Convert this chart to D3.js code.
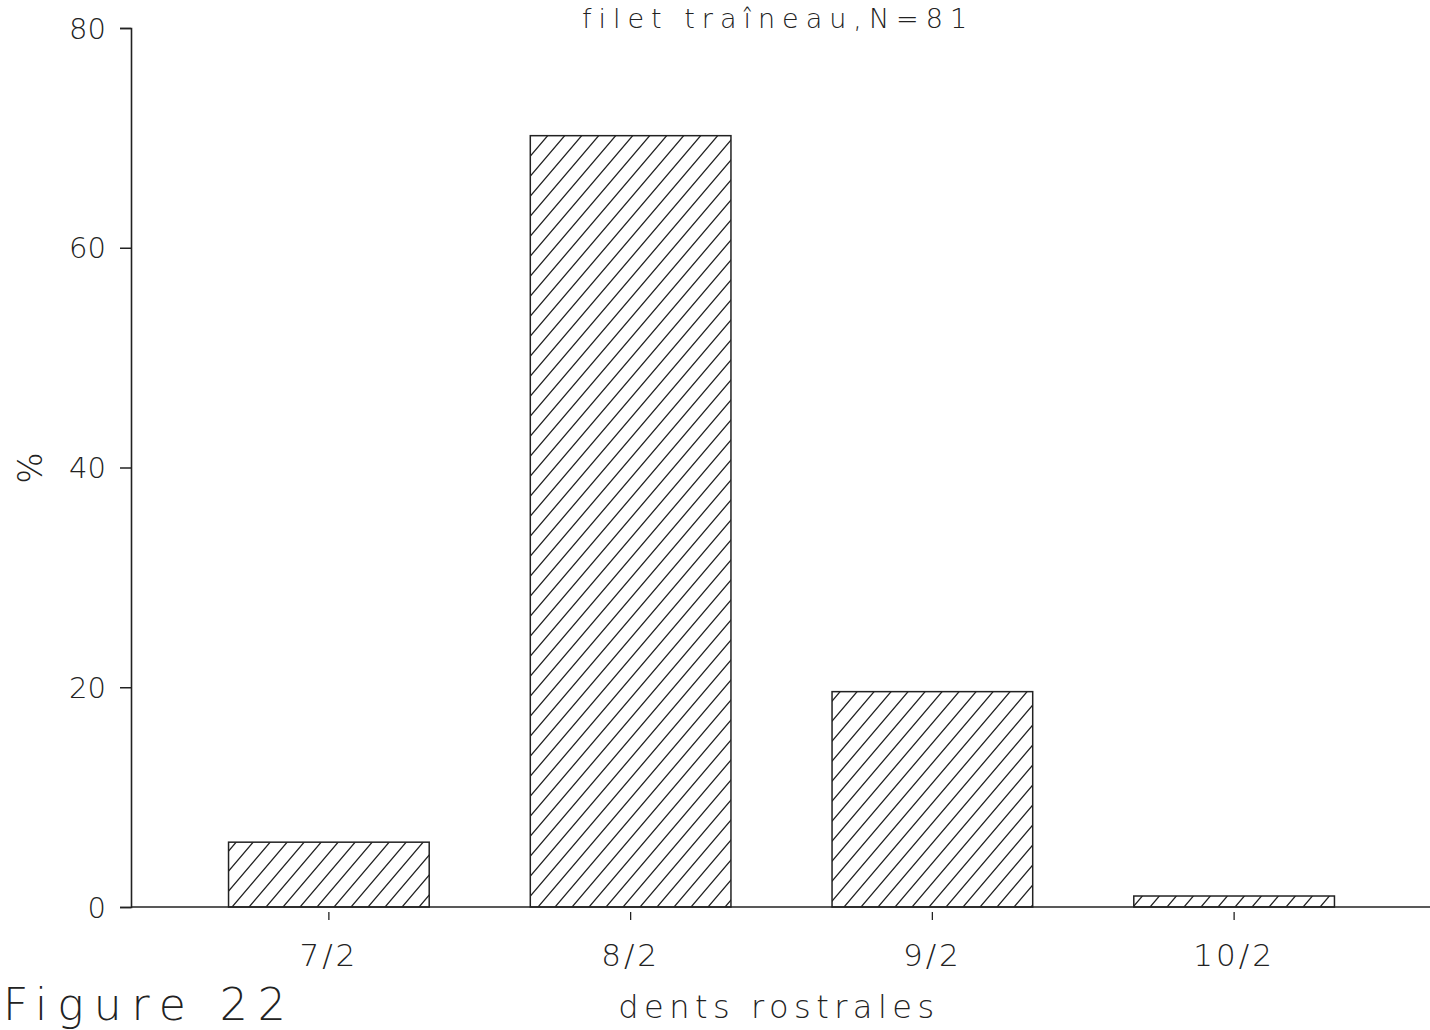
<!DOCTYPE html>
<html><head><meta charset="utf-8">
<script src="https://cdn.jsdelivr.net/npm/d3@7"></script>
<style>
body{margin:0;background:#fff;}
text{font-family:"DejaVu Sans",sans-serif;font-weight:200;fill:#222;}
</style></head>
<body>
<svg id="c" width="1430" height="1030"></svg>
<script>
const categories = ["7/2","8/2","9/2","10/2"];
const values = [5.9, 70.2, 19.6, 1.0];
const yTicks = [0,20,40,60,80];
const title = "filet traîneau,N=81";
const xTitle = "dents rostrales";
const yTitle = "%";
const figLabel = "Figure 22";

const svg = d3.select("#c");
const y = d3.scaleLinear().domain([0,80]).range([907,28]);
const x = d3.scaleBand().domain(categories).range([178,1385]).paddingInner(0.335).paddingOuter(0.1675);

const defs = svg.append("defs");
const pat = defs.append("pattern").attr("id","hatch").attr("patternUnits","userSpaceOnUse")
  .attr("width",17).attr("height",20);
pat.append("path").attr("d","M-4.25,25 L21.25,-5 M-21.25,25 L4.25,-5 M12.75,25 L38.25,-5")
  .attr("stroke","#222").attr("stroke-width",1.3).attr("fill","none");

// bars
svg.selectAll("rect.bar").data(values).join("rect")
  .attr("class","bar")
  .attr("x",(d,i)=>x(categories[i]))
  .attr("width",x.bandwidth())
  .attr("y",d=>y(d))
  .attr("height",d=>y(0)-y(d))
  .attr("fill","url(#hatch)").attr("stroke","#222").attr("stroke-width",1.5);

// y axis
const yAxis = svg.append("g").attr("transform","translate(131,0)")
  .call(d3.axisLeft(y).tickValues(yTicks).tickSize(11).tickPadding(14));
yAxis.select(".domain").attr("stroke","#222").attr("stroke-width",1.6);
yAxis.selectAll(".tick line").attr("stroke","#222").attr("stroke-width",1.5);
yAxis.selectAll(".tick text").attr("font-size",29).style("font-family","DejaVu Sans").style("font-weight",200).attr("fill","#222").attr("dy","0.35em");

// x axis line
svg.append("line").attr("x1",131).attr("x2",1430).attr("y1",y(0)).attr("y2",y(0))
  .attr("stroke","#222").attr("stroke-width",1.6);
// x ticks
svg.selectAll("line.xt").data(categories).join("line").attr("class","xt")
  .attr("x1",d=>x(d)+x.bandwidth()/2).attr("x2",d=>x(d)+x.bandwidth()/2)
  .attr("y1",912).attr("y2",920).attr("stroke","#222").attr("stroke-width",1.3);
svg.selectAll("text.xl").data(categories).join("text").attr("class","xl")
  .attr("x",d=>x(d)+x.bandwidth()/2).attr("y",966).attr("text-anchor","middle")
  .attr("font-size",31).attr("letter-spacing",3).text(d=>d);

svg.append("text").attr("x",779).attr("y",1018).attr("text-anchor","middle")
  .attr("font-size",32).attr("letter-spacing",5.5).text(xTitle);
svg.append("text").attr("transform","translate(42,468) rotate(-90)").attr("text-anchor","middle")
  .attr("font-size",33).text(yTitle);
svg.append("text").attr("x",778).attr("y",28).attr("text-anchor","middle")
  .attr("font-size",27).attr("letter-spacing",7).text(title);
svg.append("text").attr("x",3).attr("y",1020).attr("font-size",44).attr("letter-spacing",10).text(figLabel);
</script>
</body></html>
